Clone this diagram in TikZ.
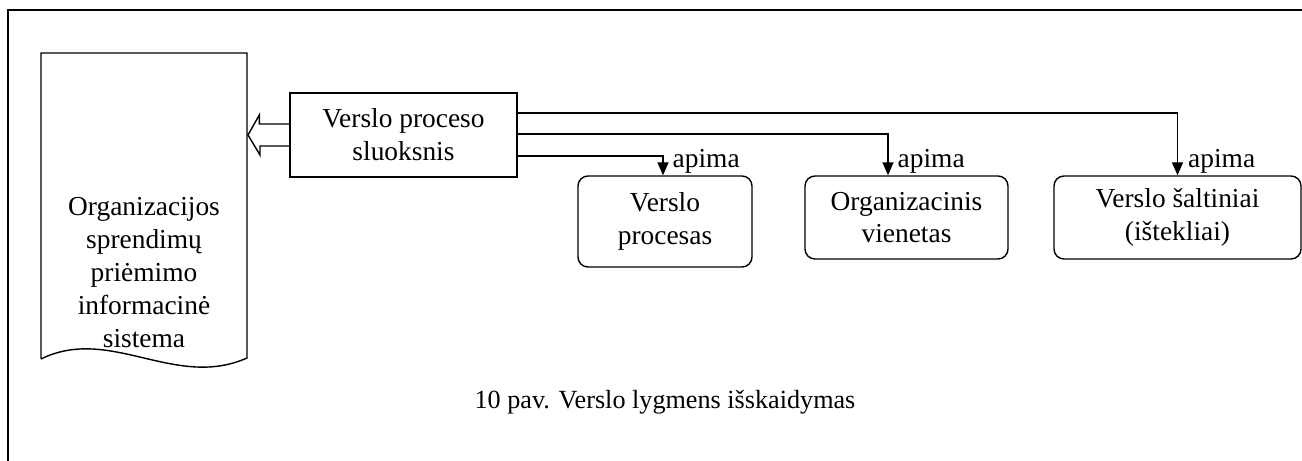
\documentclass[tikz,border=0pt]{standalone}
\usepackage{fontspec}
\setmainfont{Liberation Serif}
\usetikzlibrary{arrows.meta,positioning,calc}

\begin{document}
\begin{tikzpicture}[>={Triangle[length=0.26cm,width=0.22cm]}, line width=0.8pt,
  every node/.style={font=\fontsize{15.6}{18.7}\selectfont},
  layerbox/.style={draw, minimum width=4.54cm, minimum height=1.68cm, align=center},
  elembox/.style={draw, rounded corners=0.2cm, align=center},
  apima/.style={anchor=base west, inner sep=0pt}]
  \useasboundingbox (0,0) rectangle (26.04,-9.22);
  % frame
  \draw[line width=1.1pt] (0.16,-9.22) -- (0.16,-0.2) -- (26.04,-0.2);

  % document
  \draw (0.82,-7.18) -- (0.82,-1.06) -- (4.94,-1.06) -- (4.94,-7.16)
    .. controls (3.5,-7.8) and (2.2,-6.5) .. (0.82,-7.18);
  \node[align=center] (ois) at (2.88,-5.45) {Organizacijos\\sprendimų\\priėmimo\\informacinė\\sistema};
  \coordinate (tip) at (4.96,-2.70);

  \node[layerbox] (vps) at (8.07,-2.70) {Verslo proceso\\sluoksnis};
  \node[elembox, minimum width=3.48cm, minimum height=1.82cm] (vp) at (13.30,-4.43) {Verslo\\procesas};
  \node[elembox, minimum width=4.06cm, minimum height=1.66cm] (ov) at (18.13,-4.35) {Organizacinis\\vienetas};
  \node[elembox, minimum width=4.94cm, minimum height=1.66cm] (vs) at (23.55,-4.35) {Verslo šaltiniai\\(ištekliai)};

  % hollow arrow to the document
  \draw ([yshift=0.22cm]vps.west) -- ++(-0.6,0) -- ++(0,0.18) -- (tip)
    -- ++(0.24,-0.4) -- ++(0,0.18) -- ([yshift=-0.22cm]vps.west);

  \draw[->] ([yshift=0.44cm]vps.east) -| (vs.north);
  \draw[->] ([yshift=0.02cm]vps.east) -| ([xshift=-0.37cm]ov.north);
  \draw[->] ([yshift=-0.42cm]vps.east) -| ([xshift=-0.04cm]vp.north);
  \node[apima] (a1) at ([xshift=0.14cm,yshift=0.16cm]vp.north) {apima};
  \node[apima] (a2) at ([xshift=-0.19cm,yshift=0.16cm]ov.north) {apima};
  \node[apima] (a3) at ([xshift=0.2cm,yshift=0.16cm]vs.north) {apima};

  \node[font=\fontsize{14.9}{18}\selectfont] (cap) at (13.3,-8.04) {10 pav. Verslo lygmens išskaidymas};
\end{tikzpicture}
\end{document}
